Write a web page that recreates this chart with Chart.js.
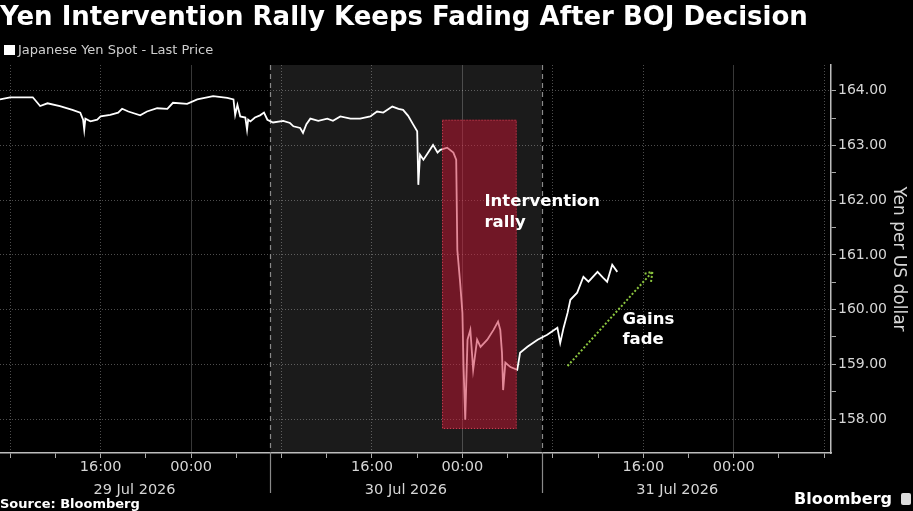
<!DOCTYPE html>
<html>
<head>
<meta charset="utf-8">
<script src="https://cdn.jsdelivr.net/npm/chart.js@4/dist/chart.umd.min.js"></script>
<style>
  html, body { margin: 0; padding: 0; background: #000; width: 913px; height: 511px; overflow: hidden; }
  #wrap { position: relative; width: 913px; height: 511px; }
  #chart { position: absolute; left: 0; top: 0; }
  .txt { position: absolute; color: #fff; font-family: "DejaVu Sans", Verdana, sans-serif; white-space: nowrap; z-index: 2; }
  #title { left: 0; top: 1px; font-size: 26px; font-weight: bold; }
  #legend { left: 4px; top: 42px; font-size: 13px; color: #cfcfcf; }
  #legend i { display: inline-block; width: 11px; height: 10px; background: #fff; margin-right: 3px; vertical-align: -1px; }
  #source { left: 0; top: 496px; font-size: 13px; font-weight: bold; }
  #brand { right: 2px; top: 489px; font-size: 16px; font-weight: bold; }
  #brand b { display: inline-block; width: 10px; height: 12px; background: #ddd; border-radius: 2px; margin-left: 9px; vertical-align: -1px; }
</style>
</head>
<body>
<div id="wrap">
  <canvas id="chart" width="913" height="511"></canvas>
  <div class="txt" id="title">Yen Intervention Rally Keeps Fading After BOJ Decision</div>
  <div class="txt" id="legend"><i></i>Japanese Yen Spot - Last Price</div>
  <div class="txt" id="source">Source: Bloomberg</div>
  <div class="txt" id="brand">Bloomberg<b></b></div>
</div>
<script>
// hours counted from 29 Jul 2026 00:00
var hours = [7.1, 8.0, 10.0, 10.65, 11.3, 12.4, 13.5, 14.2, 14.45, 14.55,
  14.65, 15.1, 15.7, 16.0, 16.85, 17.55, 17.9, 18.45, 19.5, 20.1,
  21.0, 21.9, 22.4, 23.65, 24.55, 25.95, 27.2, 27.75, 27.9, 28.1,
  28.35, 28.8, 28.95, 29.05, 29.25, 29.65, 30.1, 30.45, 30.75, 31.25,
  32.15, 32.75, 33.05, 33.65, 33.9, 34.2, 34.55, 35.25, 36.05, 36.55,
  37.2, 38.1, 38.95, 39.85, 40.45, 41.0, 41.8, 42.35, 42.75, 43.2,
  43.65, 44.0, 44.1, 44.25, 44.55, 45.0, 45.4, 45.8, 46.05, 46.65,
  47.2, 47.45, 47.55, 47.8, 48.0, 48.1, 48.25, 48.45, 48.7, 48.95,
  49.3, 49.6, 50.2, 50.75, 51.15, 51.35, 51.5, 51.6, 51.8, 52.25,
  52.85, 53.1, 53.75, 54.65, 55.5, 56.4, 56.65, 56.95, 57.3, 57.55,
  58.15, 58.7, 59.15, 59.95, 60.45, 60.8, 61.25, 61.7];

// Japanese Yen Spot - Last Price (yen per US dollar)
var yen = [163.84, 163.88, 163.88, 163.72, 163.77, 163.72, 163.65, 163.60, 163.47, 163.29,
  163.49, 163.44, 163.47, 163.53, 163.56, 163.60, 163.67, 163.62, 163.55, 163.62,
  163.68, 163.67, 163.78, 163.76, 163.84, 163.90, 163.87, 163.84, 163.56, 163.74,
  163.53, 163.51, 163.29, 163.47, 163.44, 163.51, 163.55, 163.60, 163.47, 163.42,
  163.45, 163.41, 163.35, 163.32, 163.23, 163.39, 163.49, 163.45, 163.49, 163.45,
  163.53, 163.49, 163.49, 163.53, 163.62, 163.60, 163.71, 163.67, 163.65, 163.54,
  163.38, 163.26, 162.28, 162.83, 162.74, 162.88, 163.01, 162.87, 162.92, 162.96,
  162.87, 162.74, 161.09, 160.49, 159.94, 158.95, 157.99, 159.45, 159.63, 158.90,
  159.45, 159.32, 159.45, 159.63, 159.78, 159.63, 159.21, 158.53, 159.03, 158.95,
  158.90, 159.21, 159.32, 159.45, 159.54, 159.67, 159.39, 159.67, 159.94, 160.18,
  160.31, 160.60, 160.51, 160.69, 160.58, 160.51, 160.82, 160.69];

var xTicks = [8, 12, 16, 20, 24, 28, 32, 36, 40, 44, 48, 52, 56, 60, 64, 68, 72, 76, 80];
var yTicks = [158, 158.5, 159, 159.5, 160, 160.5, 161, 161.5, 162, 162.5, 163, 163.5, 164];
var dayLabels = ['29 Jul 2026', '30 Jul 2026', '31 Jul 2026'];
var dayCenters = [19, 43, 67];
var dayBounds = [31, 55];
var rally = { x0: 46.2, x1: 52.8, y0: 157.82, y1: 163.47 };
var fade = { x0: 57.3, y0: 158.97, x1: 64.8, y1: 160.69 };

var FONT = '"DejaVu Sans", Verdana, sans-serif';

var decor = {
  id: 'decor',
  beforeDraw: function (chart) {
    var ctx = chart.ctx, a = chart.chartArea, x = chart.scales.x;
    ctx.save();
    ctx.fillStyle = '#000';
    ctx.fillRect(0, 0, chart.width, chart.height);
    // 30 Jul session band
    ctx.fillStyle = '#1b1b1b';
    var b0 = x.getPixelForValue(dayBounds[0]), b1 = x.getPixelForValue(dayBounds[1]);
    ctx.fillRect(b0, a.top, b1 - b0, a.bottom - a.top);
    ctx.restore();
  },
  beforeDatasetsDraw: function (chart) {
    var ctx = chart.ctx, a = chart.chartArea, x = chart.scales.x;
    ctx.save();
    ctx.strokeStyle = '#8a8a8a';
    ctx.lineWidth = 1.2;
    dayBounds.forEach(function (d) {
      var px = Math.round(x.getPixelForValue(d)) + 0.5;
      ctx.setLineDash([5, 4]);
      ctx.beginPath(); ctx.moveTo(px, a.top); ctx.lineTo(px, a.bottom); ctx.stroke();
      ctx.setLineDash([]);
      ctx.beginPath(); ctx.moveTo(px, a.bottom); ctx.lineTo(px, a.bottom + 40); ctx.stroke();
    });
    ctx.restore();
  },
  afterDatasetsDraw: function (chart) {
    var ctx = chart.ctx, x = chart.scales.x, y = chart.scales.y;
    ctx.save();
    // intervention box
    var rx0 = x.getPixelForValue(rally.x0), rx1 = x.getPixelForValue(rally.x1);
    var ry0 = y.getPixelForValue(rally.y1), ry1 = y.getPixelForValue(rally.y0);
    ctx.fillStyle = 'rgba(200, 20, 50, 0.5)';
    ctx.fillRect(rx0, ry0, rx1 - rx0, ry1 - ry0);
    ctx.strokeStyle = 'rgba(235, 80, 100, 0.8)';
    ctx.lineWidth = 1;
    ctx.setLineDash([1, 2]);
    ctx.strokeRect(rx0 + 0.5, ry0 + 0.5, rx1 - rx0 - 1, ry1 - ry0 - 1);

    // gains fade arrow
    var ax0 = x.getPixelForValue(fade.x0), ay0 = y.getPixelForValue(fade.y0);
    var ax1 = x.getPixelForValue(fade.x1), ay1 = y.getPixelForValue(fade.y1);
    ctx.strokeStyle = '#8cc63f';
    ctx.lineWidth = 2;
    ctx.setLineDash([2, 2]);
    ctx.beginPath(); ctx.moveTo(ax0, ay0); ctx.lineTo(ax1, ay1); ctx.stroke();
    var ang = Math.atan2(ay1 - ay0, ax1 - ax0), hl = 10;
    ctx.beginPath();
    ctx.moveTo(ax1 - hl * Math.cos(ang - 0.6), ay1 - hl * Math.sin(ang - 0.6));
    ctx.lineTo(ax1, ay1);
    ctx.lineTo(ax1 - hl * Math.cos(ang + 0.6), ay1 - hl * Math.sin(ang + 0.6));
    ctx.stroke();
    ctx.setLineDash([]);

    // annotation text
    ctx.fillStyle = '#fff';
    ctx.font = 'bold 16.5px ' + FONT;
    ctx.textBaseline = 'middle';
    ctx.textAlign = 'left';
    var tx = x.getPixelForValue(49.95), ty = y.getPixelForValue(161.98);
    ctx.fillText('Intervention', tx, ty);
    ctx.fillText('rally', tx, ty + 21);
    var gx = x.getPixelForValue(62.15), gy = y.getPixelForValue(159.81);
    ctx.fillText('Gains', gx, gy);
    ctx.fillText('fade', gx, gy + 20);
    ctx.restore();
  },
  afterDraw: function (chart) {
    var ctx = chart.ctx, a = chart.chartArea, x = chart.scales.x;
    ctx.save();
    ctx.fillStyle = '#d6d6d6';
    ctx.font = '14.5px ' + FONT;
    ctx.textAlign = 'center';
    ctx.textBaseline = 'middle';
    dayLabels.forEach(function (t, i) {
      ctx.fillText(t, x.getPixelForValue(dayCenters[i]), a.bottom + 37);
    });
    ctx.restore();
  }
};

new Chart(document.getElementById('chart'), {
  type: 'line',
  data: {
    datasets: [{
      label: 'Japanese Yen Spot - Last Price',
      data: hours.map(function (h, i) { return { x: h, y: yen[i] }; }),
      borderColor: '#ffffff',
      borderWidth: 1.8,
      pointRadius: 0,
      tension: 0,
      fill: false
    }]
  },
  options: {
    responsive: false,
    animation: false,
    layout: { padding: { top: 65, left: 0, right: 0, bottom: 0 } },
    plugins: { legend: { display: false }, title: { display: false }, tooltip: { enabled: false } },
    scales: {
      x: {
        type: 'linear',
        min: 7.1,
        max: 80.6,
        afterBuildTicks: function (s) { s.ticks = xTicks.map(function (v) { return { value: v }; }); },
        afterFit: function (s) { s.height = 58; },
        grid: {
          color: function (c) {
            if (!c.tick) return 'rgba(0,0,0,0)';
            if (c.tick.value % 24 === 0) return 'rgba(255,255,255,0.22)';
            return c.tick.value % 8 === 0 ? 'rgba(255,255,255,0.3)' : 'rgba(0,0,0,0)';
          },
          tickColor: '#aaaaaa',
          tickLength: 5,
          lineWidth: 1
        },
        border: {
          display: true, color: '#bdbdbd', width: 1.5,
          dash: function (c) { return c.tick && c.tick.value % 24 === 0 ? [] : [1, 2]; }
        },
        ticks: {
          autoSkip: false,
          maxRotation: 0,
          padding: 1,
          color: '#d6d6d6',
          font: { family: FONT, size: 14.5 },
          callback: function (v) {
            if (v % 24 === 16) return '16:00';
            if (v % 24 === 0) return '00:00';
            return '';
          }
        }
      },
      y: {
        position: 'right',
        min: 157.38,
        max: 164.47,
        afterBuildTicks: function (s) { s.ticks = yTicks.map(function (v) { return { value: v }; }); },
        afterFit: function (s) { s.width = 82; },
        grid: {
          color: function (c) { return c.tick && c.tick.value % 1 === 0 ? 'rgba(255,255,255,0.3)' : 'rgba(0,0,0,0)'; },
          tickColor: '#aaaaaa',
          tickLength: 5,
          lineWidth: 1
        },
        border: { display: true, color: '#bdbdbd', width: 1.5, dash: [1, 2] },
        ticks: {
          padding: 2,
          color: '#d6d6d6',
          font: { family: FONT, size: 14 },
          callback: function (v) { return v % 1 === 0 ? v.toFixed(2) : ''; }
        },
        title: {
          display: true,
          text: 'Yen per US dollar',
          color: '#d6d6d6',
          font: { family: FONT, size: 17 },
          padding: 4
        }
      }
    }
  },
  plugins: [decor]
});
</script>
</body>
</html>
